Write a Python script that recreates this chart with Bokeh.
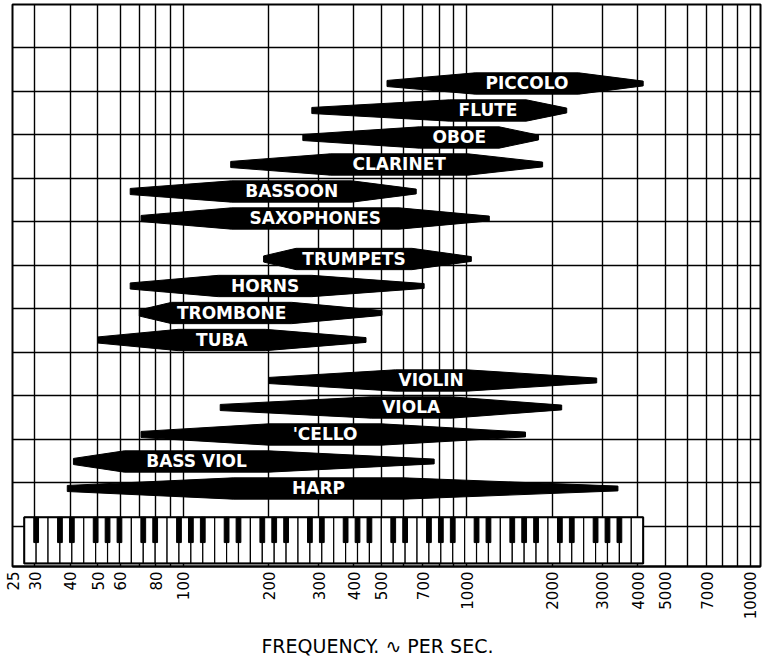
import math
from bokeh.plotting import figure
from bokeh.models import Range1d, FixedTicker, NumeralTickFormatter
from bokeh.core.properties import value
from bokeh.embed import file_html
from bokeh.resources import INLINE

# ---------------- data ----------------
instruments = ["PICCOLO", "FLUTE", "OBOE", "CLARINET", "BASSOON", "SAXOPHONES",
               "TRUMPETS", "HORNS", "TROMBONE", "TUBA",
               "VIOLIN", "VIOLA", "'CELLO", "BASS VIOL", "HARP"]
sections = ["woodwind"] * 6 + ["brass"] * 4 + ["strings"] * 5
low_hz = [523, 284, 264, 147, 65, 71, 192, 65, 70, 50, 200, 135, 71, 41, 39]
full_lo_hz = [1070, 870, 680, 330, 148, 148, 250, 133, 91, 96, 560, 460, 200, 62, 150]
full_hi_hz = [2480, 1620, 1300, 1010, 393, 577, 640, 284, 241, 195, 1000, 880, 500, 200, 600]
high_hz = [4186, 2250, 1790, 1850, 663, 1200, 1037, 707, 502, 441, 2870, 2160, 1610, 767, 3410]

tick_labels_hz = [25, 30, 40, 50, 60, 80, 100, 200, 300, 400, 500, 700,
                  1000, 2000, 3000, 4000, 5000, 7000, 10000]
grid_hz = ([30, 40, 50, 60, 70, 80, 90] + [100 * k for k in range(1, 10)]
           + [1000 * k for k in range(1, 10)] + [10000])

piano_low_hz = 27.5      # A0
piano_high_hz = 4186.0   # C8
piano_white_keys = 52

# ---------------- layout constants ----------------
ROW0 = 1.816      # y of first row (grid units)
ROW_STEP = 0.6207
GROUP_GAP = 0.5   # extra rows between sections
HALF_THICK = 0.245
TIP_L = 0.07
TIP_R = 0.055

p = figure(width=763, height=660, x_axis_type="log",
           x_range=Range1d(25, 10850), y_range=Range1d(12.92, 0.0),
           output_backend="svg", toolbar_location=None,
           min_border_left=12, min_border_right=3, min_border_top=4,
           min_border_bottom=94)
p.background_fill_color = "white"
p.border_fill_color = "white"
p.outline_line_color = "black"
p.outline_line_width = 2

# grids
p.xgrid.ticker = FixedTicker(ticks=grid_hz)
p.xgrid.grid_line_color = "black"
p.xgrid.grid_line_width = 1.4
p.ygrid.ticker = FixedTicker(ticks=list(range(1, 13)))
p.ygrid.grid_line_color = "black"
p.ygrid.grid_line_width = 1.4
p.yaxis.visible = False

# x axis
ax = p.xaxis[0]
ax.ticker = FixedTicker(ticks=tick_labels_hz)
ax.formatter = NumeralTickFormatter(format="0")
ax.major_label_orientation = math.pi / 2
ax.major_label_text_font = "DejaVu Sans"
ax.major_label_text_font_size = "15px"
ax.major_label_text_color = "black"
ax.major_label_standoff = 5
ax.major_tick_in = 0
ax.major_tick_out = 0
ax.minor_tick_in = 0
ax.minor_tick_out = 0
ax.axis_line_color = "black"
ax.axis_line_width = 2
ax.axis_label = "FREQUENCY.  \u223F  PER  SEC."
ax.axis_label_text_font = "DejaVu Sans"
ax.axis_label_text_font_size = "19px"
ax.axis_label_text_font_style = "normal"
ax.axis_label_text_color = "black"
ax.axis_label_standoff = 13

# ---------------- instrument range shapes ----------------
group_index = {"woodwind": 0, "brass": 1, "strings": 2}
xs, ys, lx, ly = [], [], [], []
for i, name in enumerate(instruments):
    y = ROW0 + ROW_STEP * (i + GROUP_GAP * group_index[sections[i]])
    lo, a, b, hi = low_hz[i], full_lo_hz[i], full_hi_hz[i], high_hz[i]
    xs.append([lo, a, b, hi, hi, b, a, lo])
    ys.append([y - TIP_L, y - HALF_THICK, y - HALF_THICK, y - TIP_R,
               y + TIP_R, y + HALF_THICK, y + HALF_THICK, y + TIP_L])
    lx.append(math.sqrt(a * b))
    ly.append(y)

p.patches(xs=xs, ys=ys, fill_color="black", line_color="black", line_width=1)
p.text(x=lx, y=ly, text=instruments, text_color="white",
       text_font=value("DejaVu Sans"), text_font_size="17px",
       text_font_style="bold",
       text_align="center", text_baseline="middle")

# ---------------- piano keyboard ----------------
KB_TOP = 11.79
KB_BOT = 12.85
BK_BOT = 12.37
L = math.log10(piano_low_hz)
R = math.log10(piano_high_hz)
w = (R - L) / piano_white_keys
wl = [10 ** (L + j * w) for j in range(piano_white_keys)]
wr = [10 ** (L + (j + 1) * w) for j in range(piano_white_keys)]
p.quad(left=wl, right=wr, top=KB_TOP, bottom=KB_BOT,
       fill_color="white", line_color="black", line_width=1.2)
letters = "ABCDEFG"
bl, br = [], []
for j in range(piano_white_keys - 1):
    if letters[j % 7] in "ACDFG":
        c = L + (j + 1) * w
        bl.append(10 ** (c - 0.2 * w))
        br.append(10 ** (c + 0.2 * w))
p.quad(left=bl, right=br, top=KB_TOP, bottom=BK_BOT,
       fill_color="black", line_color="black", line_width=1)
p.quad(left=[piano_low_hz], right=[piano_high_hz], top=KB_TOP, bottom=KB_BOT,
       fill_color=None, line_color="black", line_width=2)

open("out.html", "w").write(file_html(p, INLINE))
